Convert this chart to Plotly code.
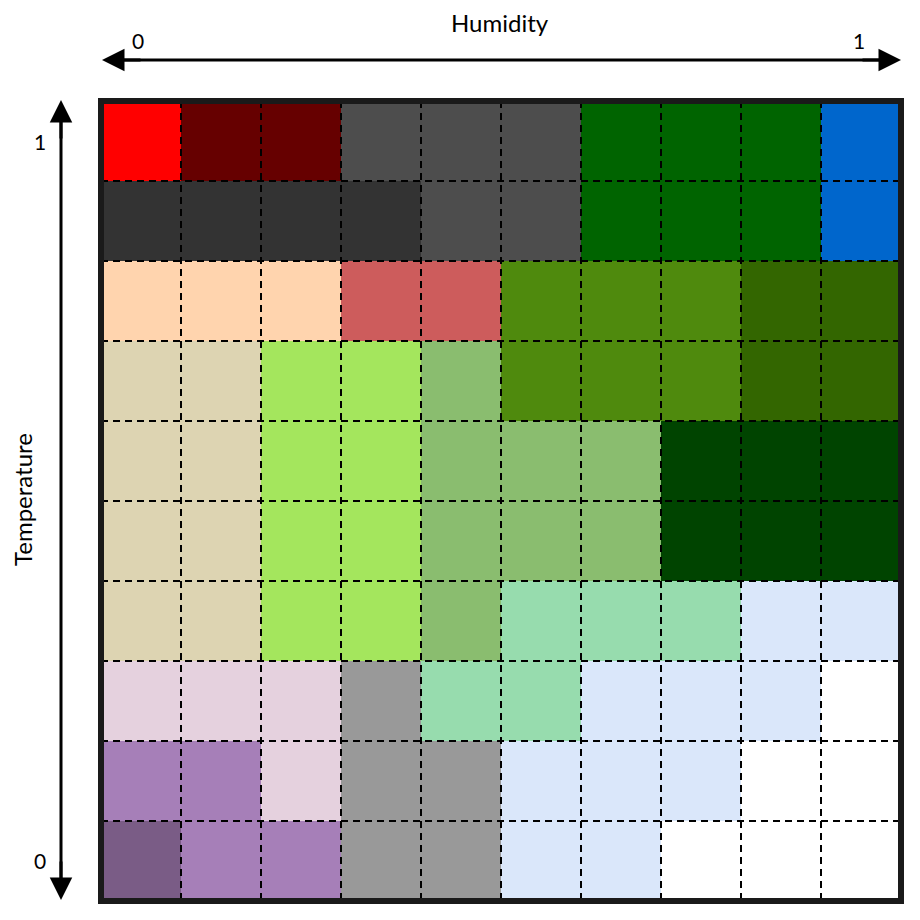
import plotly.graph_objects as go

# Category colours (biome-like zones)
zone_names = ["red", "darkred", "gray_mid", "gray_dark", "green", "blue",
              "peach", "indianred", "olive", "darkolive", "beige", "lightgreen",
              "sage", "deepgreen", "mint", "lightblue", "pink", "gray_light",
              "purple", "darkpurple", "white"]
zone_colors = ["#ff0000", "#660000", "#4d4d4d", "#333333", "#006400", "#0066cc",
               "#ffd4ae", "#cd5c5c", "#4f8a0d", "#336600", "#ddd4b2", "#a4e65d",
               "#8abd6f", "#004400", "#97dcae", "#dae7fa", "#e5d1de", "#999999",
               "#a67fb8", "#7a5c86", "#ffffff"]

humidity_ticks = ["0", "1"]
temperature_ticks = ["0", "1"]

# rows from top (temperature 1) to bottom (temperature 0); columns humidity 0 -> 1
row_0 = ["red", "darkred", "darkred", "gray_mid", "gray_mid", "gray_mid", "green", "green", "green", "blue"]
row_1 = ["gray_dark", "gray_dark", "gray_dark", "gray_dark", "gray_mid", "gray_mid", "green", "green", "green", "blue"]
row_2 = ["peach", "peach", "peach", "indianred", "indianred", "olive", "olive", "olive", "darkolive", "darkolive"]
row_3 = ["beige", "beige", "lightgreen", "lightgreen", "sage", "olive", "olive", "olive", "darkolive", "darkolive"]
row_4 = ["beige", "beige", "lightgreen", "lightgreen", "sage", "sage", "sage", "deepgreen", "deepgreen", "deepgreen"]
row_5 = ["beige", "beige", "lightgreen", "lightgreen", "sage", "sage", "sage", "deepgreen", "deepgreen", "deepgreen"]
row_6 = ["beige", "beige", "lightgreen", "lightgreen", "sage", "mint", "mint", "mint", "lightblue", "lightblue"]
row_7 = ["pink", "pink", "pink", "gray_light", "mint", "mint", "lightblue", "lightblue", "lightblue", "white"]
row_8 = ["purple", "purple", "pink", "gray_light", "gray_light", "lightblue", "lightblue", "lightblue", "white", "white"]
row_9 = ["darkpurple", "purple", "purple", "gray_light", "gray_light", "lightblue", "lightblue", "white", "white", "white"]
grid_rows = [row_0, row_1, row_2, row_3, row_4, row_5, row_6, row_7, row_8, row_9]

n = len(zone_colors)
idx = {name: i for i, name in enumerate(zone_names)}
z = [[idx[c] for c in row] for row in grid_rows]
colorscale = []
for i, col in enumerate(zone_colors):
    colorscale.append([i / n, col])
    colorscale.append([(i + 1) / n, col])

ncols = len(row_0)
nrows = len(grid_rows)

fig = go.Figure(go.Heatmap(
    z=z, x=list(range(ncols)), y=list(range(nrows)),
    colorscale=colorscale, zmin=-0.5, zmax=n - 0.5,
    showscale=False, hoverinfo="skip"))

W = 800.0
def px_x(p):
    return (p - 101) / W
def px_y(p):
    return (901 - p) / W

shapes = []
for k in range(1, ncols):
    shapes.append(dict(type="line", xref="x", yref="y", x0=k - 0.5, x1=k - 0.5,
                       y0=-0.5, y1=nrows - 0.5, layer="above",
                       line=dict(color="black", width=2, dash="7px,5px")))
for k in range(1, nrows):
    shapes.append(dict(type="line", xref="x", yref="y", y0=k - 0.5, y1=k - 0.5,
                       x0=-0.5, x1=ncols - 0.5, layer="above",
                       line=dict(color="black", width=2, dash="7px,5px")))
shapes.append(dict(type="rect", xref="paper", yref="paper", x0=0, x1=1, y0=0, y1=1,
                   layer="above", line=dict(color="#1a1a1a", width=6)))
# arrow shafts
shapes.append(dict(type="line", xref="paper", yref="paper", x0=px_x(115), x1=px_x(888),
                   y0=px_y(60), y1=px_y(60), layer="above", line=dict(color="black", width=3)))
shapes.append(dict(type="line", xref="paper", yref="paper", x0=px_x(61), x1=px_x(61),
                   y0=px_y(113), y1=px_y(887), layer="above", line=dict(color="black", width=3)))

font_family = "Lato, Open Sans, sans-serif"
annotations = []
arrow_style = dict(showarrow=True, arrowhead=2, arrowsize=1.5, arrowwidth=3,
                   arrowcolor="black", text="", xref="paper", yref="paper",
                   axref="pixel", ayref="pixel", standoff=0, startstandoff=0)
# Humidity arrow heads
annotations.append(dict(x=px_x(901), y=px_y(60), ax=-40, ay=0, **arrow_style))
annotations.append(dict(x=px_x(102), y=px_y(60), ax=40, ay=0, **arrow_style))
# Temperature arrow heads
annotations.append(dict(x=px_x(61), y=px_y(100), ax=0, ay=40, **arrow_style))
annotations.append(dict(x=px_x(61), y=px_y(900), ax=0, ay=-40, **arrow_style))

def label(px, py, text, size, angle=0):
    return dict(x=px_x(px), y=px_y(py), text=text, textangle=angle, showarrow=False,
                xref="paper", yref="paper", xanchor="center", yanchor="middle",
                font=dict(family=font_family, size=size, color="black"))

annotations.append(label(500, 22, "Humidity", 24))
annotations.append(label(138, 40, humidity_ticks[0], 21))
annotations.append(label(859, 40, humidity_ticks[1], 21))
annotations.append(label(40, 141, temperature_ticks[1], 21))
annotations.append(label(40, 860, temperature_ticks[0], 21))
annotations.append(label(22, 500, "Temperature", 24, angle=-90))

fig.update_layout(
    width=920, height=920,
    margin=dict(l=101, r=19, t=101, b=19),
    paper_bgcolor="white", plot_bgcolor="white",
    xaxis=dict(range=[-0.5, ncols - 0.5], showticklabels=False, showgrid=False,
               zeroline=False, ticks="", fixedrange=True),
    yaxis=dict(range=[nrows - 0.5, -0.5], showticklabels=False, showgrid=False,
               zeroline=False, ticks="", fixedrange=True),
    shapes=shapes, annotations=annotations, showlegend=False,
)

fig.write_html("out.html")
